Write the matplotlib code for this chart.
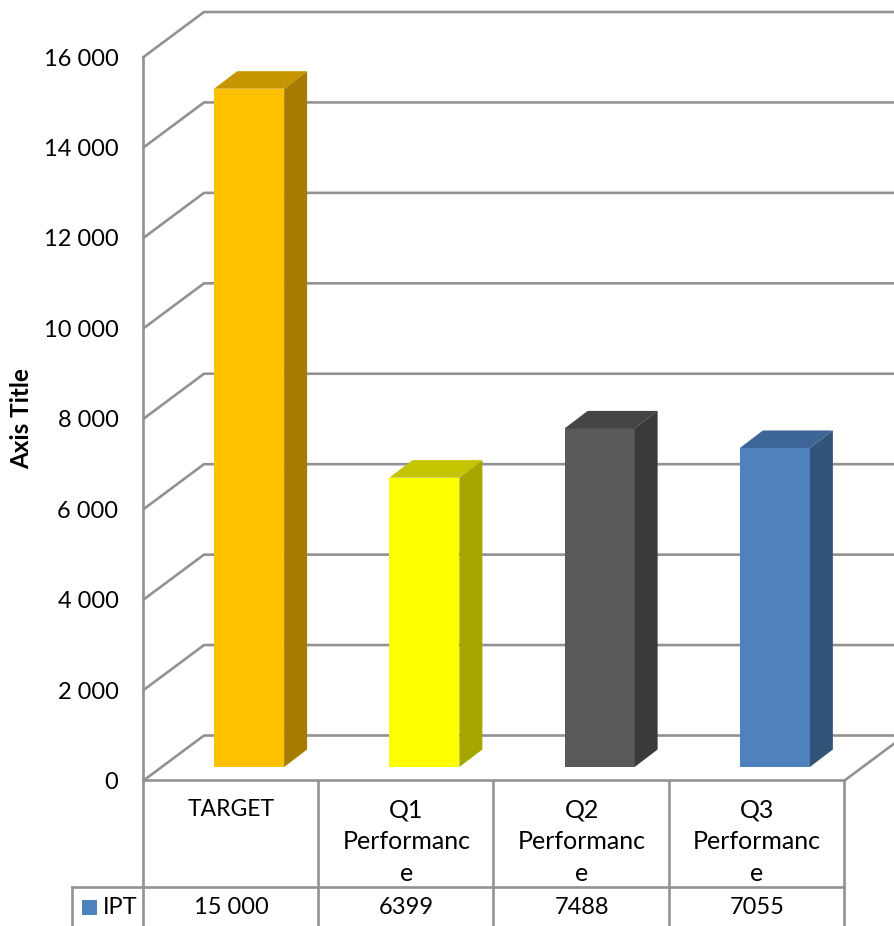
import numpy as np
import matplotlib
matplotlib.use('Agg')
import matplotlib.pyplot as plt
from matplotlib.patches import Polygon
from matplotlib.ticker import FuncFormatter

categories = ['TARGET', 'Q1\nPerformanc\ne', 'Q2\nPerformanc\ne', 'Q3\nPerformanc\ne']
table_values = ['15 000', '6399', '7488', '7055']
values = [15000, 6399, 7488, 7055]
y_ticks = [0, 2000, 4000, 6000, 8000, 10000, 12000, 14000, 16000]
series_name = 'IPT'

front_colors = ['#FFC000', '#FFFF00', '#595959', '#4F81BD']
top_colors = ['#C69500', '#C4C400', '#454545', '#3E6597']
side_colors = ['#A67C00', '#A6A600', '#3A3A3A', '#335479']

GRID = '#929292'
LW = 1.9
W, H = 895, 926

plt.rcParams['font.family'] = ['Lato', 'DejaVu Sans']

fig = plt.figure(figsize=(W / 100, H / 100), dpi=100)

# main axes sits on the front face of the 3d box
left, right, top, bottom = 143.5, 844.5, 57.0, 780.5
ax = fig.add_axes([left / W, 1 - bottom / H, (right - left) / W, (bottom - top) / H])
ax.set_xlim(-0.5, 3.5)
ax.set_ylim(0, 16000)
ax.patch.set_alpha(0)

cat_px = (right - left) / 4
val_px = (bottom - top) / 16000


def dx(p):
    return p / cat_px


def dy(p):
    return p / val_px


# walls
wall_x, wall_y = dx(60.5), dy(45)
for t in y_ticks:
    ax.plot([-0.5, -0.5 + wall_x, 3.5 + wall_x], [t, t + wall_y, t + wall_y],
            color=GRID, lw=LW, clip_on=False, zorder=1, solid_joinstyle='miter')
ax.plot([-0.5, -0.5], [0, 16000], color=GRID, lw=LW, clip_on=False, zorder=1)
ax.plot([-0.5, 3.5, 3.5 + wall_x], [0, 0, wall_y], color=GRID, lw=LW, clip_on=False, zorder=1)

# bars
x = np.arange(len(values)) + dx(18)
bar_w = dx(70)
base = dy(13.5)
depth_x, depth_y = dx(23), dy(17.5)
bars = ax.bar(x, values, width=bar_w, bottom=base, color=front_colors, zorder=3, clip_on=False)
for b, tc, sc in zip(bars, top_colors, side_colors):
    x0, x1 = b.get_x(), b.get_x() + b.get_width()
    y0, y1 = b.get_y(), b.get_y() + b.get_height()
    ax.add_patch(Polygon([(x0, y1), (x1, y1), (x1 + depth_x, y1 + depth_y), (x0 + depth_x, y1 + depth_y)],
                         closed=True, fc=tc, ec='none', zorder=3, clip_on=False))
    ax.add_patch(Polygon([(x1, y0), (x1 + depth_x, y0 + depth_y), (x1 + depth_x, y1 + depth_y), (x1, y1)],
                         closed=True, fc=sc, ec='none', zorder=3, clip_on=False))

for s in ax.spines.values():
    s.set_visible(False)

ax.set_yticks(y_ticks)
ax.yaxis.set_major_formatter(FuncFormatter(lambda v, p: f'{int(v):,}'.replace(',', ' ')))
ax.tick_params(axis='y', length=0, pad=18, labelsize=17)
for lab in ax.get_yticklabels():
    lab.set_va('center_baseline')
ax.set_xticks(range(len(categories)))
ax.set_xticklabels(categories, fontsize=18, linespacing=1.47)
ax.get_xticklabels()[0].set_fontsize(16.5)
ax.tick_params(axis='x', length=0, pad=13)

# data table under the chart, in pixels
ov = fig.add_axes([0, 0, 1, 1])
ov.set_xlim(0, W)
ov.set_ylim(H, 0)
ov.axis('off')
ov.patch.set_alpha(0)
row_y = 887
for i in range(5):
    xp = left - 0.5 + i * cat_px
    ov.plot([xp, xp], [bottom, H], color=GRID, lw=LW)
ov.plot([72, right], [row_y, row_y], color=GRID, lw=LW)
ov.plot([72, 72], [row_y, H], color=GRID, lw=LW)
ov.fill([82, 97, 97, 82], [900, 900, 915, 915], color=front_colors[3], lw=0)
ov.text(103, 907, series_name, fontsize=17, va='center', ha='left')
for i, v in enumerate(table_values):
    ov.text(left + (i + 0.5) * cat_px, 907, v, fontsize=17, va='center', ha='center')
ov.text(22, 419, 'Axis Title', fontsize=17.5, fontweight='bold', rotation=90, va='center', ha='center')

fig.savefig('out.png', dpi=100)
